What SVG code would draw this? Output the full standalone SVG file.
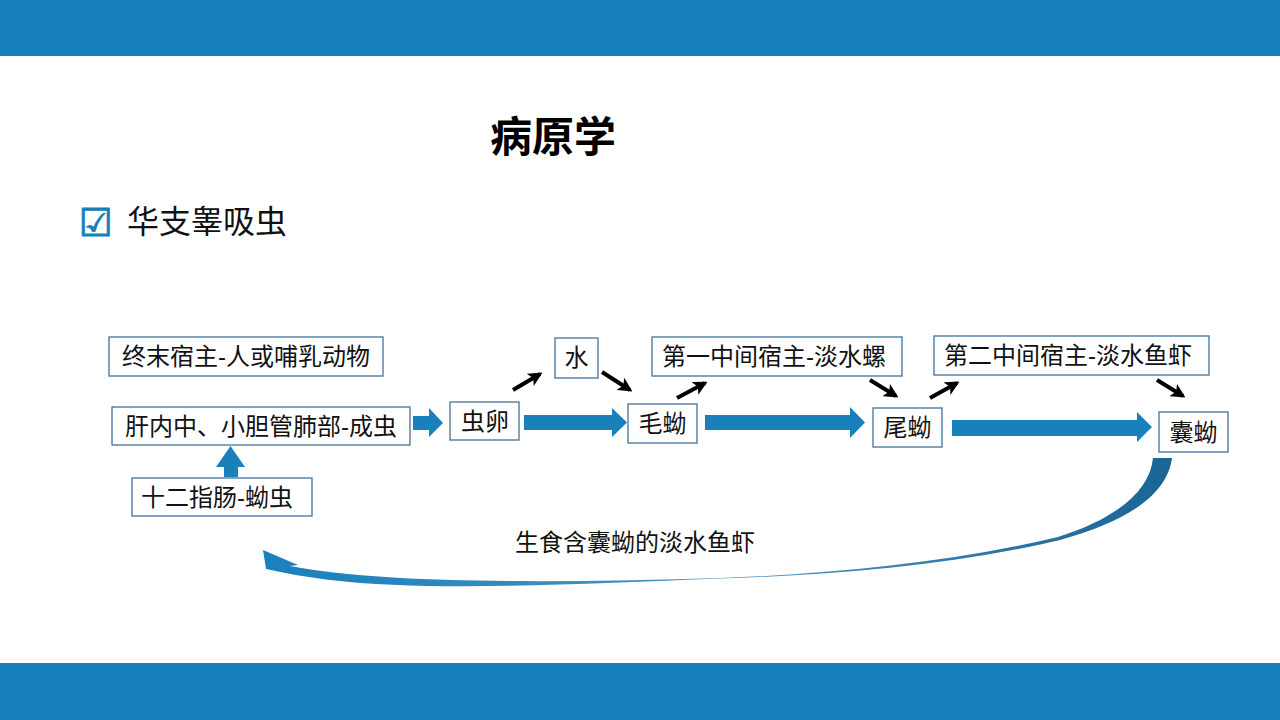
<svg xmlns="http://www.w3.org/2000/svg" width="1280" height="720" viewBox="0 0 1280 720">
<defs>
<style>
.box{fill:#fff;stroke:#41719C;stroke-width:1.3}
.t{font-family:"Liberation Sans","Noto Sans CJK SC",sans-serif;font-size:24px;fill:#111;text-anchor:middle}
.blk{fill:#1880BB}
.sm{stroke:#000;stroke-width:4;fill:none;marker-end:url(#ah)}
</style>
<marker id="ah" viewBox="0 0 10 10" refX="8" refY="5" markerWidth="3.6" markerHeight="3.6" orient="auto" markerUnits="strokeWidth">
<path d="M0,0 L10,5 L0,10 L2.5,5 Z" fill="#000"/>
</marker>
<linearGradient id="cg" x1="263" y1="0" x2="1172" y2="0" gradientUnits="userSpaceOnUse">
<stop offset="0" stop-color="#1A80BC"/>
<stop offset="0.5" stop-color="#4A93C2"/>
<stop offset="1" stop-color="#1A6496"/>
</linearGradient>
</defs>
<rect x="0" y="0" width="1280" height="56" fill="#1680BA"/>
<rect x="0" y="663" width="1280" height="57" fill="#1680BA"/>
<text x="490" y="152" font-family="'Noto Sans CJK SC',sans-serif" font-size="42" font-weight="bold" fill="#000">病原学</text>
<g id="bullet">
<text x="79" y="236" font-family="'DejaVu Sans',sans-serif" font-size="38" fill="#1680BA" stroke="#1680BA" stroke-width="1">☑</text>
<text x="127" y="233" font-family="'Noto Sans CJK SC',sans-serif" font-size="32" fill="#111">华支睾吸虫</text>
</g>
<g id="connectors">
<path class="blk" d="M224,477 L224,467 L216,467 L230.5,446 L245,467 L238,467 L238,477 Z"/>
<path class="blk" d="M413,416 L429,416 L429,408 L443,423 L429,437 L429,430 L413,430 Z"/>
<path class="blk" d="M524,415 L612,415 L612,408 L627,422.5 L612,437 L612,430 L524,430 Z"/>
<path class="blk" d="M705,415 L850,415 L850,407 L865,422.5 L850,438 L850,430 L705,430 Z"/>
<path class="blk" d="M952,420 L1137,420 L1137,412 L1152,427 L1137,442 L1137,436 L952,436 Z"/>
<line class="sm" x1="513" y1="390" x2="540" y2="374"/>
<line class="sm" x1="602" y1="372" x2="630" y2="390"/>
<line class="sm" x1="677" y1="398" x2="705" y2="383"/>
<line class="sm" x1="870" y1="380" x2="896" y2="396"/>
<line class="sm" x1="930" y1="398" x2="957" y2="383"/>
<line class="sm" x1="1157" y1="380" x2="1183" y2="396"/>
<path fill="url(#cg)" d="M1172,458 C1167,495 1128,521 1060,540 C950,566 830,575 720,578.5 C580,584 430,592 330,580 C305,577 285,573 266,569 L263,550 L298,565 L290,566 C380,584 560,583 720,578 C830,574 950,563 1058,537 C1118,518 1150,490 1153,458 Z"/>
</g>
<g id="n1"><rect class="box" x="109" y="337" width="274" height="39"/><text class="t" x="246" y="365">终末宿主-人或哺乳动物</text></g>
<g id="n2"><rect class="box" x="112" y="407" width="298" height="38"/><text class="t" x="261" y="435">肝内中、小胆管肺部-成虫</text></g>
<g id="n3"><rect class="box" x="132" y="478" width="180" height="38"/><text class="t" x="217" y="506">十二指肠-蚴虫</text></g>
<g id="n4"><rect class="box" x="450" y="402" width="69" height="38"/><text class="t" x="485" y="430">虫卵</text></g>
<g id="n5"><rect class="box" x="555" y="338" width="43" height="40"/><text class="t" x="576.5" y="366">水</text></g>
<g id="n6"><rect class="box" x="628" y="404" width="69" height="39"/><text class="t" x="662.5" y="432">毛蚴</text></g>
<g id="n7"><rect class="box" x="652" y="337" width="250" height="39"/><text class="t" x="774" y="365">第一中间宿主-淡水螺</text></g>
<g id="n8"><rect class="box" x="873" y="408" width="69" height="39"/><text class="t" x="907.5" y="436">尾蚴</text></g>
<g id="n9"><rect class="box" x="934" y="336" width="275" height="39"/><text class="t" x="1068" y="364">第二中间宿主-淡水鱼虾</text></g>
<g id="n10"><rect class="box" x="1159" y="412" width="69" height="40"/><text class="t" x="1193.5" y="441">囊蚴</text></g>
<text class="t" x="635" y="551">生食含囊蚴的淡水鱼虾</text>
</svg>
